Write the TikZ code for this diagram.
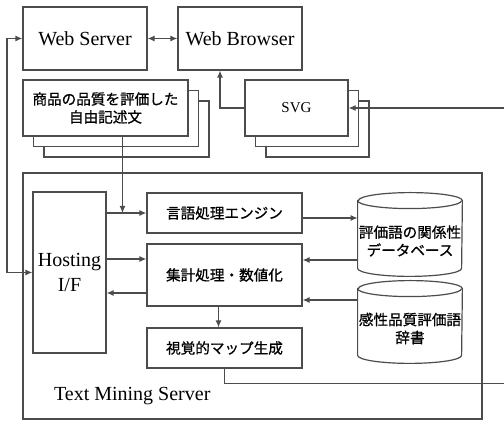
\documentclass[tikz,border=0pt]{standalone}
\usepackage{fontspec}
\setmainfont{Liberation Serif}
\newfontfamily\jp[FakeBold=0.8]{Noto Sans CJK JP}
\usetikzlibrary{arrows.meta,shadows}

\tikzset{
  box/.style={draw=black!70, fill=white, line width=0.6pt, inner sep=0pt},
  jptext/.style={font=\jp\fontsize{7.3}{9}\selectfont, align=center},
  entext/.style={font=\fontsize{10}{12.5}\selectfont, align=center},
  link/.style={draw=black!70, line width=0.6pt},
  stack/.style={double copy shadow={shadow xshift=5.25pt, shadow yshift=-5.25pt,
    fill=white, draw=black!70, line width=0.6pt}},
}

% cylinder drawn round an empty node
\newcommand\dbshape[1]{%
  \draw[box] ([yshift=-4pt]#1.north west) -- ([yshift=4pt]#1.south west)
    arc[start angle=180, end angle=360, x radius=26pt, y radius=4pt]
    -- ([yshift=-4pt]#1.north east)
    arc[start angle=0, end angle=180, x radius=26pt, y radius=4pt] -- cycle;
  \draw[box, fill=none] ([yshift=-4pt]#1.north west)
    arc[start angle=180, end angle=360, x radius=26pt, y radius=4pt];
}

\begin{document}
\begin{tikzpicture}[x=0.5pt, y=0.5pt, >={Latex[length=3.5pt, width=3pt]}]
  \useasboundingbox (0,0) rectangle (504,422);
  \clip (0,0) rectangle (504,422);

  \draw[box] (23,3) rectangle (482,249);
  \node[entext, anchor=west] (tms) at (47,26) {Text Mining Server};

  \node[box, entext, minimum width=62pt, minimum height=31.5pt] (ws) at (85,383.5) {Web Server};
  \node[box, entext, minimum width=62pt, minimum height=31.5pt] (wb) at (240,383.5) {Web Browser};
  \node[box, stack, jptext, minimum width=82.5pt, minimum height=28pt] (doc) at (105.5,314)
    {商品の品質を評価した\\自由記述文};
  \node[box, stack, font=\fontsize{7.5}{9}\selectfont, minimum width=51.5pt, minimum height=28pt]
    (svg) at (296.5,314) {SVG};

  \node[box, entext, minimum width=36.5pt, minimum height=80.5pt] (host) at (69.5,149.5) {Hosting\\I/F};
  \node[box, jptext, minimum width=77.5pt, minimum height=20pt] (eng) at (224.5,209) {言語処理エンジン};
  \node[box, jptext, minimum width=77.5pt, minimum height=31pt] (agg) at (224.5,147) {集計処理・数値化};
  \node[box, jptext, minimum width=77.5pt, minimum height=20pt] (map) at (224.5,74) {視覚的マップ生成};

  \node[minimum width=52pt, minimum height=41.5pt, inner sep=0pt] (db1) at (410,187.5) {};
  \dbshape{db1}
  \node[jptext] (db1t) at (410,181) {評価語の関係性\\データベース};
  \node[minimum width=52pt, minimum height=41pt, inner sep=0pt] (db2) at (410,100) {};
  \dbshape{db2}
  \node[jptext] (db2t) at (410,93.5) {感性品質評価語\\辞書};

  \coordinate (lft) at (7,0);
  \coordinate (offR) at (520,0);
  \coordinate (dropin) at ([xshift=8.5pt]doc.south);
  \coordinate (agg1) at ([yshift=8pt]agg.west);
  \coordinate (agg2) at ([yshift=-9pt]agg.west);
  \coordinate (agge1) at ([yshift=7.5pt]agg.east);
  \coordinate (agge2) at ([yshift=-12.5pt]agg.east);
  \coordinate (enge) at ([yshift=-2.5pt]eng.east);
  \coordinate (mapdn) at ([yshift=-7.5pt]map.south);

  \draw[link, <->] (ws) -- (wb);
  \draw[link, <->] (ws.west) -| (lft |- host.west) -- (host.west);
  \draw[link, ->] (svg.west) -| ([xshift=-10pt]wb.south);
  \draw[link, ->] (dropin) -- (dropin |- eng.west);
  \draw[link, ->] (host.east |- eng.west) -- (eng.west);
  \draw[link, ->] (host.east |- agg1) -- (agg1);
  \draw[link, ->] (agg2) -- (host.east |- agg2);
  \draw[link, ->] (enge) -- (db1.west |- enge);
  \draw[link, ->] (db1.west |- agge1) -- (agge1);
  \draw[link, ->] (db2.west |- agge2) -- (agge2);
  \draw[link, ->] ([xshift=-3pt]agg.south) -- ([xshift=-3pt]map.north);
  \draw[link, ->] (map.south) |- (mapdn -| offR) |- (svg.east);
\end{tikzpicture}
\end{document}
